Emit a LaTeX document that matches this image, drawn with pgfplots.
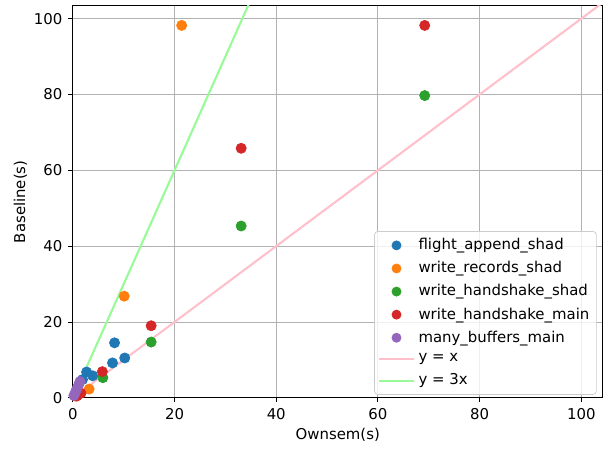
\documentclass[border=0pt]{standalone}
\usepackage{pgfplots}
\pgfplotsset{compat=1.18}
\usepackage{fontspec}
\setmainfont{DejaVu Sans}
\definecolor{tabblue}{HTML}{1F77B4}
\definecolor{taborange}{HTML}{FF7F0E}
\definecolor{tabgreen}{HTML}{2CA02C}
\definecolor{tabred}{HTML}{D62728}
\definecolor{tabpurple}{HTML}{9467BD}
\definecolor{lpink}{HTML}{FFC0CB}
\definecolor{lgreen}{HTML}{98FB98}
\begin{document}
\begin{tikzpicture}
\begin{axis}[
  scale only axis,
  width=302pt, height=223.5pt,
  xmin=0, xmax=104.2, ymin=0, ymax=103.4,
  xtick={0,20,...,100}, ytick={0,20,...,100},
  grid=major,
  grid style={color=black!30, line width=0.5pt},
  tick align=outside,
  tick pos=left,
  major tick length=2.5pt,
  axis line style={line width=0.5pt},
  every tick/.style={black, line width=0.5pt},
  /pgf/number format/assume math mode=true,
  tick label style={font=\fontsize{8.5}{10}\selectfont},
  label style={font=\fontsize{8.5}{10}\selectfont},
  xlabel={Ownsem(s)}, ylabel={Baseline(s)},
  xlabel style={yshift=2pt},
  ylabel style={yshift=-3pt},
  legend style={at={(rel axis cs:1,0)}, xshift=-3.4pt, yshift=1.7pt,
    anchor=south east,
    font=\fontsize{8.5}{10}\selectfont, draw=black!20, rounded corners=2pt,
    fill=white, fill opacity=0.8, text opacity=1, row sep=1.2pt,
    inner xsep=2pt, inner ysep=2pt},
  legend cell align=left,
  legend image code/.code={\draw[#1, draw opacity=1] (0pt,0pt) -- (0.7cm,0pt);},
  scatter legend/.style={legend image code/.code={\fill[##1, fill opacity=1] (0.35cm,0pt) circle (2.6pt);}},
]
\addplot[only marks, mark=*, mark size=2.9pt, color=tabblue, scatter legend]
  coordinates {(8.2,14.5)(10.2,10.5)(7.8,9.2)(2.7,6.8)(3.9,5.8)(1.9,4.8)};
\addlegendentry{flight\_append\_shad}
\addplot[only marks, mark=*, mark size=2.9pt, color=taborange, scatter legend]
  coordinates {(21.4,98.2)(10.1,26.8)(3.2,2.3)(0.6,0.4)};
\addlegendentry{write\_records\_shad}
\addplot[only marks, mark=*, mark size=2.9pt, color=tabgreen, scatter legend]
  coordinates {(69.2,79.7)(33.1,45.3)(15.4,14.7)(5.9,5.3)(0.9,0.8)};
\addlegendentry{write\_handshake\_shad}
\addplot[only marks, mark=*, mark size=2.9pt, color=tabred, scatter legend]
  coordinates {(69.2,98.2)(33.1,65.8)(15.4,19.0)(5.8,6.9)(1.6,1.2)(0.8,0.5)};
\addlegendentry{write\_handshake\_main}
\addplot[only marks, mark=*, mark size=2.9pt, color=tabpurple, scatter legend]
  coordinates {(0.2,0.6)(0.5,1.5)(0.8,2.4)(1.1,3.3)(1.4,4.3)};
\addlegendentry{many\_buffers\_main}
\addplot[lpink, line width=1.2pt] coordinates {(0,0)(120,120)};
\addlegendentry{y = x}
\addplot[lgreen, line width=1.2pt] coordinates {(0,0)(40,120)};
\addlegendentry{y = 3x}
\end{axis}
% white space round the figure, as in the original
\path ([xshift=-4.5pt,yshift=-2.5pt]current bounding box.south west)
      ([xshift=4.5pt,yshift=3pt]current bounding box.north east);
\end{tikzpicture}
\end{document}
